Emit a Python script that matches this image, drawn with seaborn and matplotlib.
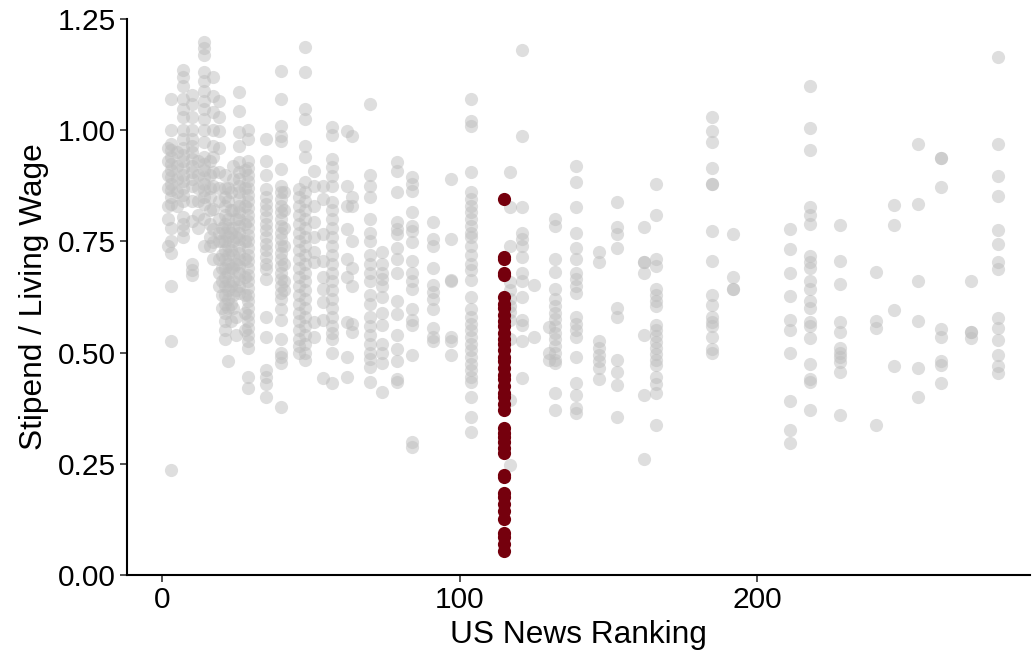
import matplotlib
matplotlib.use('Agg')
import matplotlib.pyplot as plt
import pandas as pd
import seaborn as sns

# ranking of each school column and the stipend / living wage ratios
ranks = [2, 3, 5, 7, 10, 12, 14, 16, 17, 19, 20, 21, 22, 23, 24, 25, 26, 28, 29, 35, 40, 41,
         46, 48, 51, 54, 57, 62, 64, 70, 74, 79, 84, 91, 97, 104, 117, 121, 125, 130, 132, 139,
         147, 153, 162, 166, 185, 192, 211, 218, 228, 240, 246, 254, 262, 272, 281]

ratios = [
    [0.96, 0.93, 0.90, 0.87, 0.83, 0.80, 0.74],
    [1.07, 1.00, 0.97, 0.955, 0.94, 0.925, 0.91, 0.895, 0.88, 0.865, 0.85, 0.835, 0.78, 0.75,
     0.725, 0.65, 0.525, 0.235],
    [0.95, 0.92, 0.89, 0.86, 0.83],
    [1.135, 1.12, 1.10, 1.07, 1.047, 1.03, 1.00, 0.98, 0.96, 0.945, 0.93, 0.915, 0.90, 0.885,
     0.87, 0.855, 0.84, 0.805, 0.79, 0.775, 0.76],
    [1.08, 1.06, 1.03, 1.00, 0.98, 0.965, 0.95, 0.935, 0.92, 0.905, 0.89, 0.875, 0.84, 0.795,
     0.70, 0.685, 0.675],
    [0.93, 0.90, 0.87, 0.84, 0.81, 0.78],
    [1.198, 1.185, 1.17, 1.13, 1.11, 1.088, 1.065, 1.047, 1.025, 1.00, 0.973, 0.94, 0.925, 0.91,
     0.895, 0.88, 0.865, 0.85, 0.835, 0.80, 0.74],
    [0.93, 0.90, 0.87, 0.85, 0.82, 0.79, 0.76, 0.74],
    [1.12, 1.076, 1.04, 1.00, 0.964, 0.94, 0.905, 0.874, 0.822, 0.777, 0.748, 0.71],
    [1.065, 1.03, 0.998, 0.96, 0.905, 0.87, 0.84, 0.80, 0.77, 0.75, 0.71, 0.68, 0.65],
    [0.78, 0.75, 0.72, 0.69, 0.66, 0.63, 0.60],
    [0.90, 0.87, 0.85, 0.83, 0.81, 0.79, 0.77, 0.75, 0.73, 0.71, 0.69, 0.67, 0.65, 0.63, 0.61,
     0.59, 0.57, 0.55, 0.53],
    [0.87, 0.84, 0.80, 0.78, 0.76, 0.74, 0.72, 0.70, 0.68, 0.66, 0.64, 0.62, 0.60, 0.48],
    [0.86, 0.82, 0.77, 0.73, 0.69, 0.65, 0.61, 0.57],
    [0.92, 0.89, 0.82, 0.78, 0.75, 0.72, 0.69, 0.66, 0.63, 0.60],
    [0.80, 0.76, 0.70, 0.64, 0.58, 0.54],
    [1.085, 1.043, 0.995, 0.964, 0.928, 0.905, 0.89, 0.875, 0.86, 0.845, 0.83, 0.815, 0.80,
     0.785, 0.77, 0.755, 0.74, 0.725, 0.71, 0.695, 0.68, 0.665, 0.65, 0.635],
    [0.91, 0.87, 0.83, 0.79, 0.75, 0.71, 0.67, 0.63, 0.59, 0.55],
    [1.00, 0.98, 0.93, 0.915, 0.90, 0.885, 0.87, 0.855, 0.84, 0.825, 0.81, 0.795, 0.78, 0.765,
     0.75, 0.735, 0.72, 0.705, 0.69, 0.675, 0.66, 0.645, 0.63, 0.615, 0.60, 0.585, 0.57, 0.555,
     0.54, 0.525, 0.51, 0.445, 0.42],
    [0.98, 0.93, 0.90, 0.867, 0.85, 0.835, 0.82, 0.805, 0.79, 0.775, 0.76, 0.745, 0.73, 0.715,
     0.70, 0.687, 0.665, 0.58, 0.534, 0.46, 0.445, 0.43, 0.40],
    [1.133, 1.07, 1.01, 0.986, 0.975, 0.912, 0.874, 0.86, 0.845, 0.83, 0.815, 0.80, 0.785, 0.77,
     0.755, 0.74, 0.725, 0.71, 0.695, 0.68, 0.665, 0.65, 0.635, 0.62, 0.597, 0.574, 0.53, 0.50,
     0.49, 0.477, 0.378],
    [0.86, 0.82, 0.78, 0.74, 0.70, 0.66, 0.64],
    [0.867, 0.85, 0.83, 0.81, 0.79, 0.77, 0.75, 0.73, 0.71, 0.69, 0.67, 0.65, 0.63, 0.61, 0.59,
     0.57, 0.55, 0.53, 0.515, 0.50],
    [1.187, 1.13, 1.047, 1.025, 0.964, 0.94, 0.883, 0.86, 0.84, 0.82, 0.80, 0.78, 0.76, 0.74,
     0.72, 0.70, 0.68, 0.66, 0.64, 0.62, 0.60, 0.58, 0.56, 0.54, 0.52, 0.50, 0.484],
    [0.908, 0.874, 0.829, 0.793, 0.759, 0.727, 0.703, 0.568, 0.536],
    [0.874, 0.845, 0.766, 0.705, 0.671, 0.642, 0.613, 0.574, 0.444],
    [1.007, 0.99, 0.935, 0.917, 0.896, 0.874, 0.838, 0.82, 0.80, 0.78, 0.76, 0.74, 0.72, 0.70,
     0.68, 0.66, 0.64, 0.62, 0.60, 0.58, 0.56, 0.545, 0.53, 0.50, 0.432],
    [0.998, 0.874, 0.829, 0.777, 0.71, 0.67, 0.568, 0.49, 0.446],
    [0.986, 0.849, 0.829, 0.75, 0.69, 0.65, 0.565, 0.547],
    [1.059, 0.90, 0.874, 0.849, 0.80, 0.77, 0.75, 0.72, 0.70, 0.68, 0.66, 0.63, 0.61, 0.58,
     0.56, 0.54, 0.52, 0.50, 0.485, 0.468, 0.435],
    [0.727, 0.70, 0.68, 0.665, 0.65, 0.626, 0.59, 0.563, 0.52, 0.50, 0.477, 0.412],
    [0.928, 0.908, 0.86, 0.793, 0.777, 0.766, 0.736, 0.71, 0.68, 0.615, 0.586, 0.54, 0.507,
     0.48, 0.44, 0.435],
    [0.894, 0.878, 0.863, 0.815, 0.784, 0.773, 0.748, 0.705, 0.68, 0.66, 0.642, 0.597, 0.574,
     0.563, 0.495, 0.30, 0.288],
    [0.793, 0.755, 0.739, 0.69, 0.653, 0.637, 0.62, 0.597, 0.556, 0.536, 0.525],
    [0.89, 0.755, 0.664, 0.66, 0.534, 0.525, 0.495],
    [1.07, 1.02, 1.01, 0.905, 0.86, 0.845, 0.83, 0.815, 0.80, 0.785, 0.77, 0.76, 0.739, 0.72,
     0.70, 0.685, 0.664, 0.626, 0.597, 0.58, 0.565, 0.55, 0.535, 0.52, 0.505, 0.49, 0.475, 0.46,
     0.446, 0.435, 0.40, 0.356, 0.322],
    [0.905, 0.827, 0.739, 0.658, 0.64, 0.62, 0.604, 0.592, 0.574, 0.53, 0.394, 0.248],
    [1.18, 0.986, 0.827, 0.77, 0.755, 0.739, 0.716, 0.68, 0.66, 0.626, 0.574, 0.563, 0.525,
     0.444],
    [0.653, 0.536],
    [0.558, 0.50, 0.484],
    [0.80, 0.784, 0.71, 0.682, 0.642, 0.62, 0.605, 0.59, 0.575, 0.56, 0.545, 0.53, 0.515, 0.50,
     0.484, 0.477, 0.41, 0.372],
    [0.92, 0.883, 0.827, 0.77, 0.736, 0.71, 0.68, 0.665, 0.65, 0.635, 0.581, 0.565, 0.55, 0.536,
     0.489, 0.432, 0.405, 0.376, 0.365],
    [0.727, 0.703, 0.525, 0.51, 0.495, 0.48, 0.465, 0.44],
    [0.838, 0.782, 0.766, 0.736, 0.601, 0.579, 0.484, 0.457, 0.428, 0.356],
    [0.782, 0.703, 0.703, 0.68, 0.54, 0.405, 0.26],
    [0.878, 0.81, 0.71, 0.694, 0.642, 0.63, 0.617, 0.604, 0.563, 0.55, 0.537, 0.523, 0.51,
     0.497, 0.484, 0.473, 0.446, 0.43, 0.41, 0.338],
    [1.03, 0.998, 0.973, 0.914, 0.88, 0.88, 0.773, 0.705, 0.63, 0.606, 0.581, 0.568, 0.559,
     0.536, 0.507, 0.50],
    [0.766, 0.669, 0.644, 0.644],
    [0.779, 0.734, 0.68, 0.628, 0.574, 0.55, 0.498, 0.392, 0.327, 0.297],
    [1.10, 1.005, 0.955, 0.827, 0.81, 0.79, 0.718, 0.703, 0.691, 0.662, 0.644, 0.615, 0.601,
     0.568, 0.559, 0.532, 0.475, 0.44, 0.435, 0.372],
    [0.786, 0.705, 0.655, 0.568, 0.547, 0.511, 0.50, 0.489, 0.478, 0.457, 0.36],
    [0.682, 0.57, 0.556, 0.338],
    [0.831, 0.786, 0.595, 0.47],
    [0.97, 0.833, 0.66, 0.57, 0.466, 0.40],
    [0.937, 0.937, 0.872, 0.552, 0.536, 0.48, 0.473, 0.432],
    [0.66, 0.547, 0.547, 0.532],
    [1.165, 0.97, 0.896, 0.851, 0.775, 0.745, 0.703, 0.687, 0.577, 0.556, 0.529, 0.495, 0.47,
     0.455],
]

# the highlighted school
highlight_rank = 115
highlight_ratios = [0.845, 0.716, 0.71, 0.68, 0.675, 0.625, 0.61, 0.60, 0.585, 0.57, 0.56,
                    0.545, 0.53, 0.52, 0.505, 0.49, 0.48, 0.465, 0.45, 0.44, 0.425, 0.41, 0.40,
                    0.385, 0.37, 0.33, 0.32, 0.31, 0.30, 0.285, 0.275, 0.225, 0.22, 0.185,
                    0.175, 0.16, 0.145, 0.125, 0.095, 0.085, 0.07, 0.055]

df = pd.DataFrame([(r, v) for r, vals in zip(ranks, ratios) for v in vals],
                  columns=['rank', 'ratio'])
hl = pd.DataFrame({'rank': highlight_rank, 'ratio': highlight_ratios})

sns.set_style('white')
plt.rcParams['font.family'] = ['Liberation Sans', 'DejaVu Sans']
plt.rcParams['text.color'] = 'black'
plt.rcParams['axes.labelcolor'] = 'black'

fig = plt.figure(figsize=(10.32, 6.63), dpi=100)
ax = fig.add_axes([127 / 1032, 88 / 663, 903 / 1032, 556 / 663])

sns.scatterplot(data=df, x='rank', y='ratio', color='#bebebe', alpha=0.5, s=90,
                linewidth=0, ax=ax)
sns.scatterplot(data=hl, x='rank', y='ratio', color='#75000d', s=90, linewidth=0, ax=ax)

ax.set_xlim(-11.8, 291.8)
ax.set_ylim(0, 1.25)
ax.set_xticks([0, 100, 200])
ax.set_yticks([0, 0.25, 0.5, 0.75, 1.0, 1.25])
ax.set_yticklabels(['0.00', '0.25', '0.50', '0.75', '1.00', '1.25'])
ax.tick_params(labelsize=21.5, length=5, width=1.2, color='#333333', pad=3,
               labelcolor='black', left=True, bottom=True)

sns.despine(ax=ax)
for side in ['left', 'bottom']:
    ax.spines[side].set_linewidth(1.5)
    ax.spines[side].set_color('black')

ax.set_xlabel('US News Ranking', fontsize=22.8, labelpad=4)
ax.set_ylabel('Stipend / Living Wage', fontsize=22.8, labelpad=6)

fig.savefig('out.png', dpi=100)
